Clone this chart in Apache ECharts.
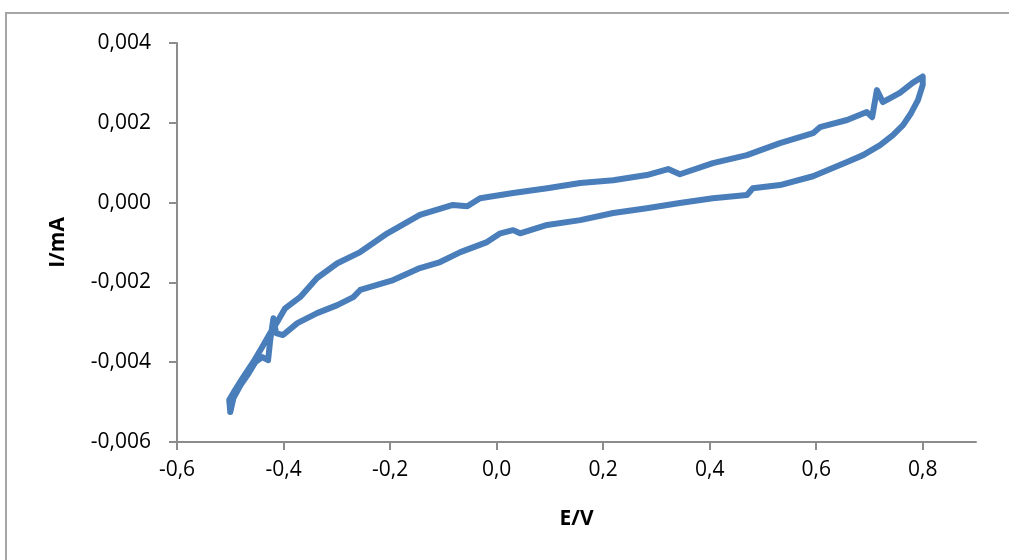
<!DOCTYPE html>
<html lang="es">
<head>
    <meta charset="UTF-8">
    <title>I/mA vs E/V</title>
    <script src="https://cdn.jsdelivr.net/npm/echarts@6/dist/echarts.min.js"></script>
</head>
<style type="text/css">
    html, body{
        margin: 0;
        padding: 0;
        background: #fff;
    }
    #wrap{
        position: relative;
        width: 1009px;
        height: 560px;
        overflow: hidden;
    }
    #frame{
        position: absolute;
        left: 5px;
        top: 12px;
        width: 1100px;
        height: 700px;
        border-left: 2px solid #a6a6a6;
        border-top: 2px solid #a6a6a6;
    }
    #main{
        position: absolute;
        left: 0;
        top: 0;
        width: 1009px;
        height: 560px;
    }
</style>
<body>
<div id="wrap">
    <div id="frame"></div>
    <div id="main"></div>
</div>
<script type="text/javascript">
    // forward sweep (upper branch), E in V, I in mA
    var upperE = [-0.500, -0.502, -0.491, -0.476, -0.457, -0.440, -0.425, -0.410, -0.397, -0.369,
        -0.337, -0.299, -0.256, -0.205, -0.144, -0.082, -0.055, -0.031, 0.031, 0.095,
        0.157, 0.219, 0.282, 0.322, 0.344, 0.406, 0.470, 0.532, 0.594, 0.607,
        0.658, 0.695, 0.705, 0.714, 0.725, 0.757, 0.781, 0.800];
    var upperI = [-0.00525, -0.00495, -0.00470, -0.00438, -0.00400, -0.00362, -0.00327, -0.00295, -0.00265, -0.00237,
        -0.00189, -0.00152, -0.00124, -0.00077, -0.00031, -0.00006, -0.00009, 0.00011, 0.00024, 0.00036,
        0.00049, 0.00056, 0.00069, 0.00084, 0.00071, 0.00099, 0.00119, 0.00149, 0.00174, 0.00189,
        0.00207, 0.00227, 0.00214, 0.00282, 0.00252, 0.00275, 0.00300, 0.00316];
    // reverse sweep (lower branch)
    var lowerE = [0.800, 0.791, 0.778, 0.763, 0.744, 0.720, 0.688, 0.658, 0.594, 0.532,
        0.481, 0.470, 0.406, 0.344, 0.282, 0.219, 0.157, 0.095, 0.044, 0.031,
        0.007, -0.018, -0.068, -0.106, -0.144, -0.194, -0.256, -0.269, -0.299, -0.337,
        -0.374, -0.401, -0.414, -0.419, -0.425, -0.429, -0.440, -0.453, -0.468, -0.481,
        -0.494, -0.500];
    var lowerI = [0.00295, 0.00257, 0.00224, 0.00194, 0.00169, 0.00144, 0.00119, 0.00102, 0.00066, 0.00044,
        0.00036, 0.00019, 0.00011, -0.00001, -0.00014, -0.00026, -0.00044, -0.00056, -0.00077, -0.00069,
        -0.00077, -0.00099, -0.00124, -0.00149, -0.00164, -0.00194, -0.00219, -0.00237, -0.00257, -0.00277,
        -0.00302, -0.00332, -0.00327, -0.00290, -0.00345, -0.00395, -0.00387, -0.00400, -0.00433, -0.00458,
        -0.00490, -0.00525];
    var xTicks = [-0.6, -0.4, -0.2, 0.0, 0.2, 0.4, 0.6, 0.8];

    var loop = [];
    for (var i = 0; i < upperE.length; i++) loop.push([upperE[i], upperI[i]]);
    for (var j = 0; j < lowerE.length; j++) loop.push([lowerE[j], lowerI[j]]);

    var font = '"Open Sans", "Noto Sans", sans-serif';
    var axisGray = '#8c8c8c';

    var myChart = echarts.init(document.getElementById('main'));
    var option = {
        animation: false,
        grid: {left: 177, right: 33, top: 43, bottom: 118, containLabel: false, outerBoundsMode: 'none'},
        xAxis: {
            type: 'value', min: -0.6, max: 0.9, interval: 0.2,
            name: 'E/V', nameLocation: 'middle', nameGap: 67,
            nameTextStyle: {fontFamily: font, fontSize: 21, fontWeight: 'bold', color: '#000'},
            axisLine: {onZero: false, lineStyle: {color: axisGray, width: 2}},
            axisTick: {show: true, length: 8, customValues: xTicks, lineStyle: {color: axisGray, width: 2}},
            axisLabel: {customValues: xTicks, margin: 18, fontFamily: font, fontSize: 21, color: '#000',
                formatter: function (v) { return v.toFixed(1).replace('.', ','); }},
            splitLine: {show: false}
        },
        yAxis: {
            type: 'value', min: -0.006, max: 0.004, interval: 0.002,
            name: 'I/mA', nameLocation: 'middle', nameGap: 108, nameRotate: 90,
            nameTextStyle: {fontFamily: font, fontSize: 21, fontWeight: 'bold', color: '#000'},
            axisLine: {show: true, onZero: false, lineStyle: {color: axisGray, width: 2}},
            axisTick: {show: true, length: 8, lineStyle: {color: axisGray, width: 2}},
            axisLabel: {margin: 26, fontFamily: font, fontSize: 21, color: '#000',
                formatter: function (v) { return v.toFixed(3).replace('.', ','); }},
            splitLine: {show: false}
        },
        series: [{
            type: 'line', data: loop, showSymbol: false, smooth: false,
            lineStyle: {color: '#4a7ebb', width: 6, join: 'round', cap: 'round'}
        }]
    };
    myChart.setOption(option);
</script>
</body>
</html>
